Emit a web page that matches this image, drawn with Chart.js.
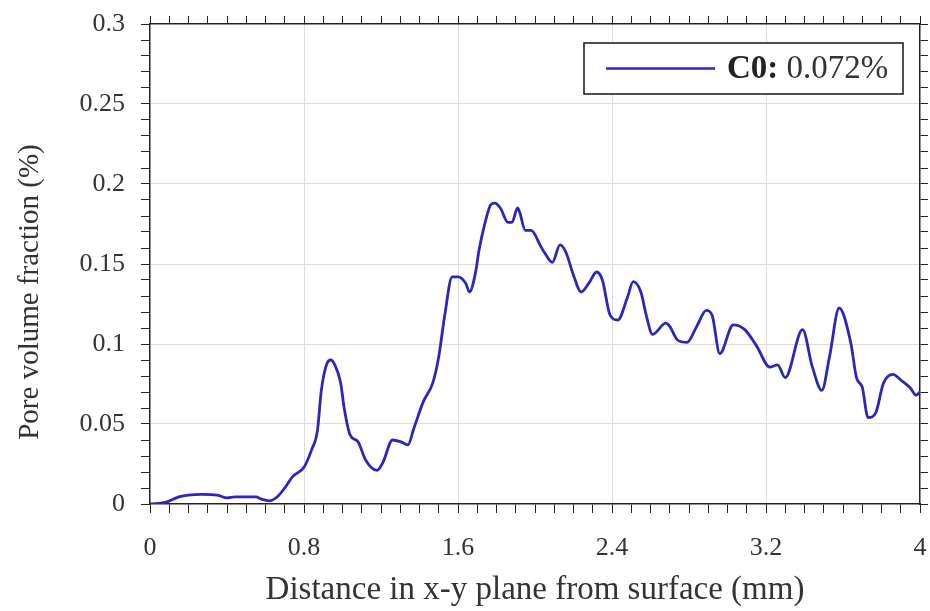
<!DOCTYPE html>
<html>
<head>
<meta charset="utf-8">
<script src="https://cdn.jsdelivr.net/npm/chart.js@4.4.1/dist/chart.umd.min.js"></script>
<style>
  html, body { margin: 0; padding: 0; background: #fff; }
  #wrap { width: 930px; height: 611px; position: relative; }
</style>
</head>
<body>
<div id="wrap"><canvas id="c" width="930" height="611"></canvas></div>
<script>
// ---- data ----
const distanceMm = [0,0.08,0.15,0.2,0.27,0.35,0.4,0.44,0.55,0.58,
  0.62,0.66,0.7,0.74,0.8,0.84,0.87,0.89,0.92,0.94,
  0.96,0.99,1.01,1.04,1.08,1.12,1.18,1.21,1.26,1.3,
  1.34,1.37,1.42,1.47,1.5,1.53,1.57,1.6,1.64,1.66,
  1.69,1.71,1.74,1.77,1.79,1.82,1.86,1.88,1.91,1.92,
  1.95,1.98,2.03,2.05,2.09,2.13,2.16,2.2,2.24,2.28,
  2.32,2.35,2.39,2.43,2.48,2.51,2.55,2.58,2.61,2.68,
  2.7,2.74,2.79,2.84,2.89,2.92,2.96,3.03,3.09,3.15,
  3.22,3.26,3.3,3.39,3.44,3.49,3.53,3.58,3.64,3.67,
  3.7,3.73,3.77,3.81,3.86,3.9,3.95,3.98,4.0];
const poreFractionC0 = [0,0.001,0.0044,0.0056,0.006,0.0056,0.0038,0.0044,0.0044,0.003,
  0.002,0.0044,0.010,0.017,0.023,0.034,0.046,0.071,0.088,0.090,
  0.087,0.076,0.059,0.043,0.039,0.0275,0.021,0.026,0.040,0.039,
  0.037,0.047,0.064,0.076,0.092,0.117,0.142,0.142,0.138,0.1325,
  0.144,0.159,0.1755,0.187,0.188,0.185,0.176,0.176,0.185,0.1825,
  0.171,0.171,0.161,0.157,0.151,0.162,0.1575,0.143,0.1325,0.138,
  0.145,0.140,0.118,0.115,0.129,0.139,0.1325,0.117,0.106,0.113,
  0.111,0.1025,0.101,0.111,0.121,0.118,0.094,0.112,0.109,0.099,
  0.0856,0.087,0.079,0.109,0.086,0.071,0.092,0.1225,0.101,0.079,
  0.073,0.054,0.057,0.0755,0.081,0.0775,0.0725,0.068,0.070];
const xTickLabels = ['0','0.8','1.6','2.4','3.2','4'];
const yTickLabels = ['0','0.05','0.1','0.15','0.2','0.25','0.3'];
const seriesName = 'C0:';
const seriesNote = '0.072%';
const xTitle = 'Distance in x-y plane from surface (mm)';
const yTitle = 'Pore volume fraction (%)';

const FONT = "'Liberation Serif', 'Times New Roman', serif";
const LINE_COLOR = 'rgb(40,40,190)';
const GRID = '#dcdcdc';

const isMajorX = v => Math.round(v * 10) % 8 === 0;
const isMajorY = v => Math.round(v * 100) % 5 === 0;
const noPad = s => { s.paddingLeft = 0; s.paddingRight = 0; s.paddingTop = 0; s.paddingBottom = 0; };

// custom legend (bold series name + regular value) and y-axis title
const decorPlugin = {
  id: 'decor',
  afterDraw(chart) {
    const ctx = chart.ctx, a = chart.chartArea;
    const ds = chart.data.datasets[0];
    // y-axis title
    ctx.save();
    ctx.translate(30, (a.top + a.bottom) / 2 + 28);
    ctx.rotate(-Math.PI / 2);
    ctx.textAlign = 'center';
    ctx.textBaseline = 'middle';
    ctx.fillStyle = '#333';
    ctx.font = "29px " + FONT;
    ctx.fillText(yTitle, 0, 0);
    ctx.restore();
    // legend
    const right = a.right - 17, top = a.top + 19, w = 319, h = 51;
    const left = right - w;
    ctx.save();
    ctx.fillStyle = '#fff';
    ctx.fillRect(left, top, w, h);
    ctx.strokeStyle = '#222';
    ctx.lineWidth = 1.6;
    ctx.strokeRect(left, top, w, h);
    const cy = top + h / 2;
    ctx.strokeStyle = ds.borderColor;
    ctx.lineWidth = 2.6;
    ctx.beginPath();
    ctx.moveTo(left + 22, cy);
    ctx.lineTo(left + 131, cy);
    ctx.stroke();
    ctx.textBaseline = 'middle';
    ctx.fillStyle = '#222';
    ctx.font = "bold 33px " + FONT;
    const tx = left + 143;
    ctx.fillText(seriesName, tx, cy + 1);
    const bw = ctx.measureText(seriesName + ' ').width;
    ctx.font = "33px " + FONT;
    ctx.fillStyle = '#333';
    ctx.fillText(seriesNote, tx + bw, cy + 1);
    ctx.restore();
  }
};

new Chart(document.getElementById('c'), {
  type: 'line',
  data: {
    datasets: [{
      label: seriesName + ' ' + seriesNote,
      data: distanceMm.map((x, i) => ({ x, y: poreFractionC0[i] })),
      borderColor: LINE_COLOR,
      borderWidth: 2.8,
      pointRadius: 0,
      fill: false,
      cubicInterpolationMode: 'monotone'
    }]
  },
  options: {
    responsive: false,
    animation: false,
    layout: { padding: 0, autoPadding: false },
    plugins: { legend: { display: false }, tooltip: { enabled: false } },
    scales: {
      x: {
        type: 'linear', position: 'bottom', min: 0, max: 4,
        afterFit: s => { s.height = 107; noPad(s); },
        afterBuildTicks: s => { s.ticks = Array.from({length: 41}, (_, i) => ({ value: i / 10 })); },
        ticks: {
          autoSkip: false, maxRotation: 0, padding: 20,
          color: '#333', font: { family: FONT, size: 26 },
          callback: v => isMajorX(v) ? xTickLabels[Math.round(v * 10) / 8] : ''
        },
        grid: {
          color: c => (c.tick && isMajorX(c.tick.value) && c.tick.value > 0 && c.tick.value < 4) ? GRID : 'rgba(0,0,0,0)',
          tickColor: '#222', tickLength: 9, drawTicks: true
        },
        border: { display: true, color: '#222', width: 1.5 },
        title: { display: true, text: xTitle, color: '#333', font: { family: FONT, size: 33 }, padding: { top: 0, bottom: 1 } }
      },
      x2: {
        type: 'linear', position: 'top', min: 0, max: 4,
        afterFit: s => { s.height = 24; noPad(s); },
        afterBuildTicks: s => { s.ticks = Array.from({length: 41}, (_, i) => ({ value: i / 10 })); },
        ticks: { display: false },
        grid: { drawOnChartArea: false, tickColor: '#222', tickLength: 8 },
        border: { display: true, color: '#222', width: 1.5 }
      },
      y: {
        type: 'linear', position: 'left', min: 0, max: 0.3,
        afterFit: s => { s.width = 150; noPad(s); },
        afterBuildTicks: s => { s.ticks = Array.from({length: 31}, (_, i) => ({ value: i / 100 })); },
        ticks: {
          autoSkip: false, padding: 16,
          color: '#333', font: { family: FONT, size: 26 },
          callback: v => isMajorY(v) ? yTickLabels[Math.round(v * 100) / 5] : ''
        },
        grid: {
          color: c => (c.tick && isMajorY(c.tick.value) && c.tick.value > 0.001 && c.tick.value < 0.299) ? GRID : 'rgba(0,0,0,0)',
          tickColor: '#222', tickLength: 9
        },
        border: { display: true, color: '#222', width: 1.5 },
        title: { display: false, text: yTitle }
      },
      y2: {
        type: 'linear', position: 'right', min: 0, max: 0.3,
        afterFit: s => { s.width = 10; noPad(s); },
        afterBuildTicks: s => { s.ticks = Array.from({length: 31}, (_, i) => ({ value: i / 100 })); },
        ticks: { display: false },
        grid: { drawOnChartArea: false, tickColor: '#222', tickLength: 8 },
        border: { display: true, color: '#222', width: 1.5 }
      }
    }
  },
  plugins: [decorPlugin]
});
</script>
</body>
</html>
